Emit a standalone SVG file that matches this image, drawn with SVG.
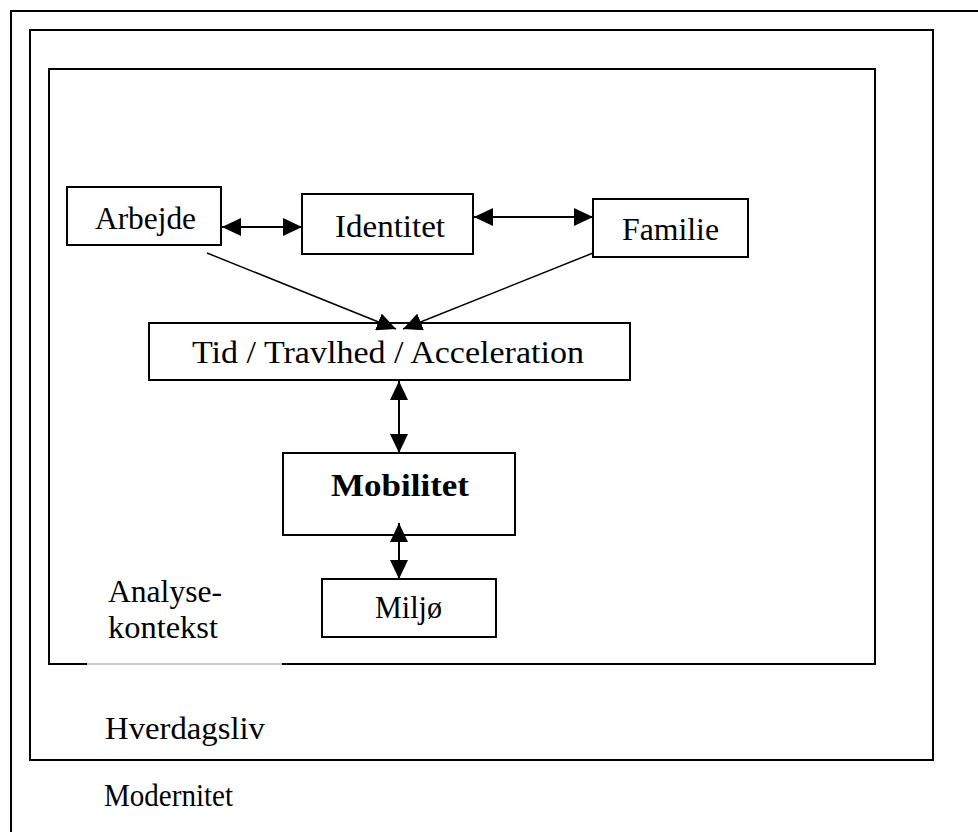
<svg xmlns="http://www.w3.org/2000/svg" width="978" height="832" viewBox="0 0 978 832">
<style>
.frame{fill:none;stroke:#000;stroke-width:2}
.box{fill:#fff;stroke:#000;stroke-width:2}
.t{font-family:"Liberation Serif","Times New Roman",serif;font-size:31px;fill:#000}
.b{font-weight:bold}
.c{stroke:#000;stroke-width:2;fill:none;marker-end:url(#ah)}
.d{marker-start:url(#ah)}
</style>
<defs>
<marker id="ah" markerUnits="userSpaceOnUse" markerWidth="19" markerHeight="18" refX="19" refY="9" orient="auto-start-reverse" viewBox="0 0 19 18">
<path d="M0,0 L19,9 L0,18 Z" fill="#000"/>
</marker>
</defs>
<rect width="978" height="832" fill="#fff"/>
<g id="modernitet">
<path class="frame" d="M11,832 V11 H978"/>
<text class="t" x="104" y="806" textLength="129" lengthAdjust="spacingAndGlyphs">Modernitet</text>
</g>
<g id="hverdagsliv">
<rect class="frame" x="30" y="30" width="903" height="730"/>
<text class="t" x="105" y="739" textLength="160" lengthAdjust="spacingAndGlyphs">Hverdagsliv</text>
</g>
<g id="analysekontekst">
<path class="frame" d="M87,664 H49 V69 H875 V664 H282"/>
<path d="M87,664 H282" stroke="#999" stroke-width="1"/>
<text class="t" x="108" y="602" textLength="114" lengthAdjust="spacingAndGlyphs">Analyse-</text>
<text class="t" x="108" y="638" textLength="110" lengthAdjust="spacingAndGlyphs">kontekst</text>
</g>
<g id="arbejde">
<rect class="box" x="67" y="187" width="154" height="58"/>
<text class="t" x="95" y="229" textLength="101" lengthAdjust="spacingAndGlyphs">Arbejde</text>
</g>
<g id="identitet">
<rect class="box" x="302" y="194" width="171" height="60"/>
<text class="t" x="335" y="237" textLength="110" lengthAdjust="spacingAndGlyphs">Identitet</text>
</g>
<g id="familie">
<rect class="box" x="593" y="199" width="155" height="58"/>
<text class="t" x="622" y="240" textLength="97" lengthAdjust="spacingAndGlyphs">Familie</text>
</g>
<g id="tid">
<rect class="box" x="149" y="323" width="481" height="57"/>
<text class="t" x="192" y="363" textLength="392" lengthAdjust="spacingAndGlyphs">Tid / Travlhed / Acceleration</text>
</g>
<g id="mobilitet">
<rect class="box" x="283" y="453" width="232" height="82"/>
<text class="t b" x="331" y="496" textLength="138" lengthAdjust="spacingAndGlyphs">Mobilitet</text>
</g>
<g id="miljo">
<rect class="box" x="322" y="579" width="174" height="58"/>
<text class="t" x="375" y="618" textLength="67" lengthAdjust="spacingAndGlyphs">Miljø</text>
</g>
<g id="connectors">
<line class="c d" x1="222" y1="227" x2="302" y2="227"/>
<line class="c d" x1="474" y1="217" x2="593" y2="217"/>
<line class="c" style="stroke-width:1.5" x1="207" y1="253" x2="396" y2="329"/>
<line class="c" style="stroke-width:1.5" x1="593" y1="253" x2="403" y2="329"/>
<line class="c d" x1="399" y1="381" x2="399" y2="453"/>
<line class="c d" x1="399" y1="523" x2="399" y2="579"/>
</g>
</svg>
